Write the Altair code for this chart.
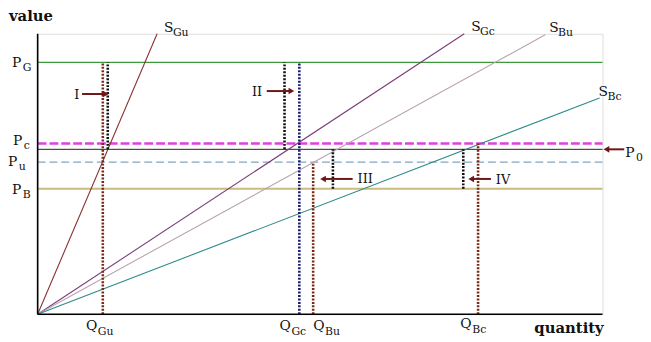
import altair as alt
import pandas as pd

# ---- data (value / quantity units of the diagram) ----
Q_MAX = 572
V_MAX = 284

price_names = ["G", "c", "0", "u", "B"]
price_values = [255, 173, 167, 154, 127]

supply_names = ["Gu", "Gc", "Bu", "Bc"]
supply_end_q = [121, 432, 514, 569]
supply_end_v = [284, 284, 283, 219]

q_names = ["Gu", "Gc", "Bu", "Bc"]
q_values = [66, 265, 279, 446]
q_tops = [255, 255, 154, 173]

gap_q = [71, 250, 299, 431]
gap_lo = [167, 167, 127, 127]
gap_hi = [255, 255, 167, 167]

arrow_names = ["I", "II", "III", "IV", "P0"]
arrow_from = [45, 232, 319, 459, 594]
arrow_to = [69, 257, 289, 439, 576]
arrow_v = [223, 226, 137, 137, 167]

# ---- styles ----
price_style = {
    "G": dict(color="#3c9a3c", strokeWidth=1.3),
    "c": dict(color="#e040e0", strokeWidth=2.5, strokeDash=[9, 3]),
    "0": dict(color="#222222", strokeWidth=1),
    "u": dict(color="#82a6c2", strokeWidth=1.3, strokeDash=[8, 4]),
    "B": dict(color="#cbbb7c", strokeWidth=2),
}
supply_color = {"Gu": "#8a3030", "Gc": "#7a3c78", "Bu": "#b9a2b2", "Bc": "#2e8b8b"}
q_color = {"Gu": "#7a2a12", "Gc": "#1c1c6e", "Bu": "#7a2a12", "Bc": "#7a2a12"}
ARROW = "#6e1616"
FONT = "DejaVu Serif"

xs = alt.Scale(domain=[0, Q_MAX])
ys = alt.Scale(domain=[0, V_MAX])


def X(f):
    return alt.X(f, type="quantitative", scale=xs, axis=None)


def Y(f):
    return alt.Y(f, type="quantitative", scale=ys, axis=None)


layers = []

# price lines
for n, v in zip(price_names, price_values):
    df = pd.DataFrame({"q": [0], "q2": [Q_MAX], "v": [v]})
    layers.append(alt.Chart(df).mark_rule(**price_style[n]).encode(
        x=X("q"), x2="q2", y=Y("v")))

# supply curves
for n, eq, ev in zip(supply_names, supply_end_q, supply_end_v):
    df = pd.DataFrame({"q": [0], "v": [0], "q2": [eq], "v2": [ev]})
    layers.append(alt.Chart(df).mark_rule(color=supply_color[n], strokeWidth=1.1).encode(
        x=X("q"), y=Y("v"), x2="q2", y2="v2"))

# quantity markers (dotted)
for n, q, t in zip(q_names, q_values, q_tops):
    df = pd.DataFrame({"q": [q], "v": [0], "v2": [t]})
    layers.append(alt.Chart(df).mark_rule(color=q_color[n], strokeWidth=2.6,
                                          strokeDash=[2, 1.5]).encode(
        x=X("q"), y=Y("v"), y2="v2"))

# gaps (black dotted)
gdf = pd.DataFrame({"q": gap_q, "v": gap_lo, "v2": gap_hi})
layers.append(alt.Chart(gdf).mark_rule(color="#111111", strokeWidth=2.6,
                                       strokeDash=[2, 1.5]).encode(
    x=X("q"), y=Y("v"), y2="v2"))

# arrows
adf = pd.DataFrame({"name": arrow_names, "q": arrow_from, "q2": arrow_to, "v": arrow_v})
adf["dir"] = ["right" if b > a else "left" for a, b in zip(arrow_from, arrow_to)]
layers.append(alt.Chart(adf).mark_rule(color=ARROW, strokeWidth=2).encode(
    x=X("q"), x2="q2", y=Y("v")))
for d in ["right", "left"]:
    layers.append(alt.Chart(adf[adf["dir"] == d]).mark_point(
        shape="triangle-" + d, filled=True, color=ARROW, size=45, opacity=1).encode(
        x=X("q2"), y=Y("v")))

# axes
axdf = pd.DataFrame({"q": [0, 0], "v": [0, 0], "q2": [Q_MAX, 0], "v2": [0, V_MAX]})
layers.append(alt.Chart(axdf).mark_rule(color="#000000", strokeWidth=1.6).encode(
    x=X("q"), y=Y("v"), x2="q2", y2="v2"))

# labels: main letter + subscript
lab_main = ["P", "P", "P", "P", "P", "S", "S", "S", "S", "Q", "Q", "Q", "Q"]
lab_sub = ["G", "c", "u", "B", "0", "Gu", "Gc", "Bu", "Bc", "Gu", "Gc", "Bu", "Bc"]
lab_q = [-26, -25, -30, -26, 595, 128, 439, 518, 568, 49, 245, 279, 428]
lab_v = [250, 171, 150, 122, 159, 286, 287, 286, 221, -16, -16, -16, -14]
ldf = pd.DataFrame({"main": lab_main, "sub": lab_sub, "q": lab_q, "v": lab_v})

layers.append(alt.Chart(ldf).mark_text(font=FONT, fontSize=14, align="left",
                                       baseline="alphabetic", color="#111111").encode(
    x=X("q"), y=Y("v"), text="main"))
for letter, dx, dy in [("P", 11, 4), ("S", 9, 4), ("Q", 12, 5)]:
    layers.append(alt.Chart(ldf[ldf["main"] == letter]).mark_text(
        font=FONT, fontSize=11, align="left", baseline="alphabetic",
        color="#111111", dx=dx, dy=dy).encode(x=X("q"), y=Y("v"), text="sub"))

roman = ["I", "II", "III", "IV"]
roman_q = [37, 217, 324, 464]
roman_v = [218, 221, 133, 132]
rdf = pd.DataFrame({"t": roman, "q": roman_q, "v": roman_v})
layers.append(alt.Chart(rdf).mark_text(font=FONT, fontSize=13, align="left",
                                       baseline="alphabetic", color="#111111").encode(
    x=X("q"), y=Y("v"), text="t"))

titles = pd.DataFrame({"t": ["value", "quantity"], "q": [-29, 503], "v": [297, -19]})
layers.append(alt.Chart(titles).mark_text(font=FONT, fontSize=15, fontWeight="bold",
                                          align="left", baseline="alphabetic",
                                          color="#111111").encode(
    x=X("q"), y=Y("v"), text="t"))

chart = alt.layer(*layers).properties(
    width=Q_MAX, height=V_MAX,
    padding={"left": 30, "top": 24, "right": 41, "bottom": 26},
    autosize=alt.AutoSizeParams(type="none"),
).configure_view(stroke=None).configure(background="white")

chart.save("out.html", embed_options={"renderer": "svg", "actions": False})
